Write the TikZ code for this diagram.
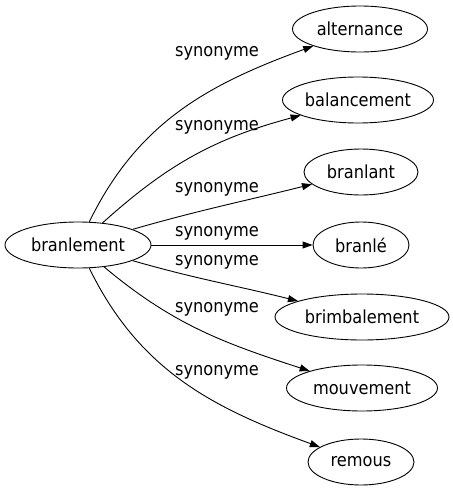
\documentclass[tikz,border=0pt]{standalone}
\usepackage{fontspec}
\setmainfont{DejaVu Sans Condensed}
\usetikzlibrary{arrows.meta,shapes.geometric}
\begin{document}
\begin{tikzpicture}[x=1pt,y=-1pt,
  term/.style={draw,ellipse,line width=0.9pt,inner sep=0pt,minimum height=46pt,font=\fontsize{18}{20}\selectfont},
  lbl/.style={inner sep=0pt,font=\fontsize{18}{20}\selectfont},
  syn/.style={line width=0.9pt,-{Triangle[length=10pt,width=7pt]}}]
\useasboundingbox (0,0) rectangle (453,491);
\node[term,minimum width=146pt] (b) at (78,245) {branlement};
\node[term,minimum width=135pt] (n1) at (360,29) {alternance};
\node[term,minimum width=151pt] (n2) at (358,100) {balancement};
\node[term,minimum width=114pt] (n3) at (361,172) {branlant};
\node[term,minimum width=96pt] (n4) at (361,245) {branlé};
\node[term,minimum width=174pt] (n5) at (362,317) {brimbalement};
\node[term,minimum width=151pt] (n6) at (362,388) {mouvement};
\node[term,minimum width=106pt] (n7) at (361,462) {remous};
\draw[syn] (b) to[out=64,in=200] (n1);
\draw[syn] (b) to[out=42,in=195] (n2);
\draw[syn] (b) to[out=16,in=194] (n3);
\draw[syn] (b) -- (n4);
\draw[syn] (b) to[out=-16,in=166] (n5);
\draw[syn] (b) to[out=-40,in=162] (n6);
\draw[syn] (b) to[out=-64,in=160] (n7);
\node[lbl] (l1) at (217,53) {synonyme};
\node[lbl] (l2) at (217,127) {synonyme};
\node[lbl] (l3) at (217,189) {synonyme};
\node[lbl] (l4) at (217,233) {synonyme};
\node[lbl] (l5) at (217,262) {synonyme};
\node[lbl] (l6) at (217,309) {synonyme};
\node[lbl] (l7) at (217,372) {synonyme};
\end{tikzpicture}
\end{document}
